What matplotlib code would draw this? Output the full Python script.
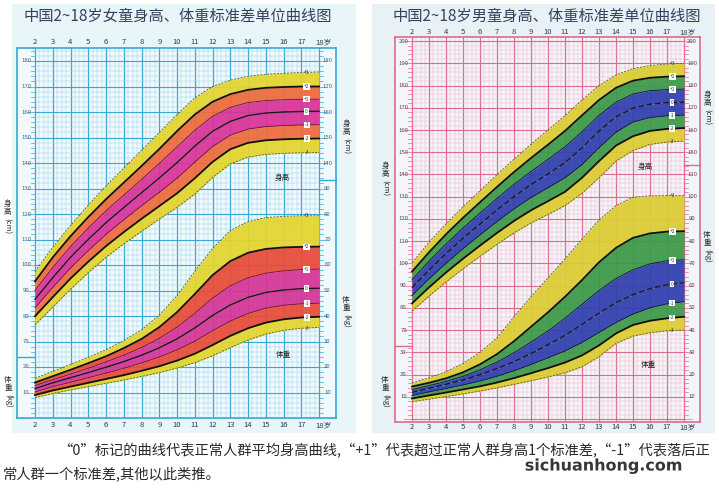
import matplotlib
matplotlib.use("Agg")
import matplotlib.pyplot as plt
import matplotlib.patheffects as pe
from matplotlib.patches import Rectangle
import numpy as np

plt.rcParams['font.family'] = ['Noto Sans CJK SC', 'DejaVu Sans']

W, H = 719, 493

# ---- data ----
AGES = list(range(2, 19))
SD_LABELS = ['+3', '+2', '+1', '0', '-1', '-2', '-3']

# girls height, cm
G_H_P3 = [97.5, 107.0, 115.5, 123.5, 131.0, 138.0, 145.0, 152.0, 159.0, 165.5, 170.0, 172.5, 174.0, 174.8, 175.2, 175.5, 175.7]
G_H_P2 = [93.6, 103.0, 111.3, 118.8, 125.8, 132.3, 138.8, 145.5, 152.5, 159.0, 164.0, 167.0, 168.7, 169.5, 169.8, 170.0, 170.0]
G_H_P1 = [90.0, 99.0, 107.2, 114.5, 121.2, 127.4, 133.5, 139.8, 146.3, 152.8, 158.3, 161.8, 163.7, 164.5, 164.8, 165.0, 165.0]
G_H_0 = [86.5, 95.0, 103.0, 110.0, 116.6, 122.5, 128.3, 134.1, 140.1, 146.6, 152.4, 156.3, 158.6, 159.6, 160.0, 160.2, 160.3]
G_H_M1 = [83.2, 91.2, 98.8, 105.6, 112.0, 117.7, 123.2, 128.5, 134.0, 140.3, 146.4, 150.9, 153.3, 154.3, 154.7, 154.9, 155.0]
G_H_M2 = [79.9, 87.4, 94.7, 101.3, 107.4, 112.9, 118.1, 123.1, 128.1, 134.0, 140.4, 145.4, 147.9, 148.9, 149.3, 149.5, 149.6]
G_H_M3 = [76.5, 83.5, 90.5, 97.0, 103.0, 108.3, 113.2, 118.0, 122.6, 127.8, 134.3, 139.7, 142.3, 143.4, 143.8, 144.0, 144.1]

# girls weight, kg
G_W_P3 = [15.5, 18.3, 21.0, 23.8, 26.8, 30.4, 34.6, 40.3, 48.0, 57.5, 66.5, 73.5, 77.0, 78.6, 79.1, 79.3, 79.3]
G_W_P2 = [13.9, 16.4, 18.9, 21.5, 24.2, 27.4, 31.0, 35.6, 41.5, 48.6, 56.0, 61.5, 64.8, 66.3, 66.9, 67.1, 67.2]
G_W_P1 = [12.7, 15.0, 17.2, 19.5, 22.0, 24.6, 27.6, 31.2, 35.6, 41.0, 47.0, 51.8, 55.0, 56.8, 57.7, 58.2, 58.4]
G_W_0 = [11.5, 13.8, 15.8, 17.8, 19.9, 22.1, 24.6, 27.5, 31.0, 35.3, 40.2, 44.3, 47.3, 49.2, 50.2, 50.7, 50.9]
G_W_M1 = [10.2, 12.3, 14.0, 15.8, 17.6, 19.5, 21.6, 23.9, 26.7, 30.1, 34.2, 38.0, 41.0, 43.1, 44.2, 44.8, 45.0]
G_W_M2 = [9.0, 10.8, 12.3, 13.8, 15.3, 16.8, 18.5, 20.3, 22.5, 25.2, 28.6, 32.2, 35.2, 37.4, 38.7, 39.4, 39.7]
G_W_M3 = [8.0, 9.6, 11.0, 12.3, 13.6, 14.9, 16.3, 17.8, 19.6, 21.7, 24.4, 27.6, 30.6, 32.9, 34.4, 35.2, 35.5]

# boys height, cm
B_H_P3 = [100.3, 109.5, 117.8, 125.5, 132.7, 139.9, 146.9, 153.6, 160.0, 166.5, 173.5, 180.0, 184.8, 187.6, 189.0, 189.7, 190.0]
B_H_P2 = [96.3, 105.0, 113.1, 120.5, 127.5, 134.4, 141.1, 147.4, 153.4, 159.6, 166.6, 173.5, 179.0, 182.2, 183.5, 184.0, 184.2]
B_H_P1 = [92.6, 101.0, 108.7, 115.9, 122.6, 129.2, 135.5, 141.3, 146.8, 152.4, 159.2, 166.6, 172.5, 176.2, 177.7, 178.2, 178.4]
B_H_0 = [89.0, 97.0, 104.3, 111.3, 117.7, 124.0, 130.0, 135.4, 140.2, 145.3, 151.9, 159.5, 165.9, 169.8, 171.6, 172.3, 172.5]
B_H_M1 = [85.5, 93.0, 100.0, 106.6, 112.8, 118.8, 124.5, 129.6, 134.0, 138.5, 144.4, 152.0, 159.0, 163.6, 165.6, 166.4, 166.7]
B_H_M2 = [82.0, 89.2, 95.9, 102.1, 108.0, 113.7, 119.1, 123.9, 128.0, 132.2, 138.5, 146.0, 153.0, 157.2, 159.6, 160.5, 160.9]
B_H_M3 = [78.5, 85.3, 91.6, 97.6, 103.2, 108.6, 113.7, 118.2, 122.0, 126.0, 131.5, 138.5, 146.0, 150.8, 153.5, 154.6, 155.0]

# boys weight, kg
B_W_P3 = [16.3, 18.5, 21.3, 25.0, 30.0, 36.5, 46.0, 55.0, 63.5, 72.0, 81.0, 89.5, 96.0, 99.8, 100.4, 100.5, 100.5]
B_W_P2 = [14.6, 16.3, 18.3, 21.0, 24.6, 29.2, 35.0, 41.5, 48.0, 55.0, 62.5, 70.5, 77.0, 81.5, 83.5, 84.3, 84.5]
B_W_P1 = [13.2, 15.0, 16.9, 19.2, 22.1, 25.6, 29.8, 34.6, 39.6, 45.3, 51.6, 57.8, 63.2, 67.1, 69.8, 71.2, 71.6]
B_W_0 = [12.0, 13.8, 15.6, 17.5, 19.9, 22.7, 25.8, 29.4, 33.4, 37.6, 42.5, 47.6, 52.3, 55.9, 58.6, 60.4, 61.3]
B_W_M1 = [10.6, 12.2, 13.7, 15.3, 17.1, 19.2, 21.7, 24.5, 27.5, 30.6, 34.4, 38.9, 43.4, 47.2, 50.0, 51.8, 52.8]
B_W_M2 = [9.2, 10.6, 11.9, 13.3, 14.7, 16.4, 18.4, 20.6, 22.9, 25.4, 28.6, 33.1, 38.5, 42.3, 44.2, 45.3, 46.0]
B_W_M3 = [7.8, 8.9, 10.1, 11.3, 12.6, 14.0, 15.6, 17.2, 18.9, 20.8, 23.5, 28.0, 34.0, 37.3, 38.8, 39.7, 40.0]

TITLE_GIRL = '中国2~18岁女童身高、体重标准差单位曲线图'
TITLE_BOY = '中国2~18岁男童身高、体重标准差单位曲线图'
CAPTION_1 = '“0”标记的曲线代表正常人群平均身高曲线,“+1”代表超过正常人群身高1个标准差,“-1”代表落后正'
CAPTION_2 = '常人群一个标准差,其他以此类推。'


def fx(x):
    return x / W


def fy(y):
    return 1 - y / H


def ftext(x, y, s, **kw):
    return fig.text(fx(x), fy(y), s, **kw)


def make_axes(left, right, top, bottom, x2, px_year, y0, px_unit):
    ax = fig.add_axes([fx(left), fy(bottom), (right - left) / W, (bottom - top) / H])
    ax.set_zorder(2)
    ax.set_xlim(2 - (x2 - left) / px_year, 2 + (right - x2) / px_year)
    ax.set_ylim((y0 - bottom) / px_unit, (y0 - top) / px_unit)
    ax.set_xticks([])
    ax.set_yticks([])
    return ax


def draw_grid(ax, major, minor, face):
    ax.set_facecolor(face)
    y_lo, y_hi = ax.get_ylim()
    for a in np.arange(2, 18.01, 0.25):
        is_major = abs(a - round(a)) < 1e-6
        ax.plot([a, a], [y_lo, y_hi], color=major if is_major else minor,
                lw=0.9 if is_major else 0.35, zorder=1)
    for v in np.arange(0, y_hi, 2):
        is_major = v % 10 == 0
        ax.plot([2, 18], [v, v], color=major if is_major else minor,
                lw=0.8 if is_major else 0.35, zorder=1)
        tl = 0.45 if is_major else 0.25
        ax.plot([2 - tl, 2], [v, v], color=major, lw=0.5, zorder=1)
        ax.plot([18, 18 + tl], [v, v], color=major, lw=0.5, zorder=1)
    for s in ax.spines.values():
        s.set_color(major)
        s.set_linewidth(1.2)


def draw_bands(ax, curves, shift, yellow, mid, inner, line_inner, median_dash):
    c = [np.array(v) - shift for v in curves]
    cols = [yellow, mid, inner, inner, mid, yellow]
    for k in range(6):
        ax.fill_between(AGES, c[k], c[k + 1], color=cols[k], lw=0, alpha=0.93, zorder=2)
    for k in (0, 6):
        ax.plot(AGES, c[k], color='#55601e', lw=0.6, ls=(0, (2.5, 1.5)), zorder=3)
    for k in (1, 5):
        ax.plot(AGES, c[k], color='#111111', lw=1.3, zorder=3)
    for k in (2, 4):
        ax.plot(AGES, c[k], color=line_inner, lw=0.7, zorder=3)
    ax.plot(AGES, c[3], color='#1a1a1a', lw=1.0,
            ls=(0, (4, 2)) if median_dash else '-', zorder=3)
    # sd markers near the right end
    for k, lab in enumerate(SD_LABELS):
        yv = np.interp(17.3, AGES, c[k])
        if k in (0, 6):
            ax.text(17.3, yv, lab, fontsize=3.5, color='#333333', ha='center', va='center', zorder=4)
        else:
            ax.text(17.3, yv, lab, fontsize=3.5, color='#333333', ha='center', va='center', zorder=4,
                    bbox=dict(boxstyle='square,pad=0.15', fc='white', ec='none'))


def strip_labels(ax, side, values, shift, color):
    x_lo, x_hi = ax.get_xlim()
    xs = (x_lo + 2) / 2 if side == 'left' else (18 + x_hi) / 2
    for v in values:
        ax.text(xs, v - shift, str(v), fontsize=4.3, color=color, ha='center', va='center', zorder=4)


def strip_split(ax, side, yv, color):
    x_lo, x_hi = ax.get_xlim()
    xs = [x_lo, 2] if side == 'left' else [18, x_hi]
    ax.plot(xs, [yv, yv], color=color, lw=1.0, zorder=4, clip_on=False)


fig = plt.figure(figsize=(W / 100, H / 100), dpi=100)
fig.patch.set_facecolor('white')

for x0, x1, col in [(12, 356, '#e8f5f9'), (372, 715, '#e7f1f6')]:
    fig.patches.append(Rectangle((fx(x0), fy(433)), (x1 - x0) / W, (433 - 4) / H,
                                 transform=fig.transFigure, fc=col, ec='none', zorder=-5))

# ---- girls ----
axg = make_axes(17, 336, 48, 418, 35, 17.75, 418, 2.55)
draw_grid(axg, '#35a9d4', '#94d2e9', '#f1f9fc')
draw_bands(axg, [G_H_P3, G_H_P2, G_H_P1, G_H_0, G_H_M1, G_H_M2, G_H_M3], 40,
           '#e4d52e', '#ee6b3b', '#db3399', '#7a1a3c', False)
draw_bands(axg, [G_W_P3, G_W_P2, G_W_P1, G_W_0, G_W_M1, G_W_M2, G_W_M3], 0,
           '#e4d52e', '#e94b38', '#d53596', '#7a1a3c', False)
lab_g = '#3a6a8a'
strip_labels(axg, 'left', list(range(70, 190, 10)), 40, lab_g)
strip_labels(axg, 'left', [10, 20], 0, lab_g)
strip_labels(axg, 'right', [140, 150, 160, 170, 180], 40, lab_g)
strip_labels(axg, 'right', list(range(10, 100, 10)), 0, lab_g)
strip_split(axg, 'left', 24, '#35a9d4')
strip_split(axg, 'right', 93.3, '#35a9d4')

# ---- boys ----
axb = make_axes(395, 700, 37, 422, 412, 17.0, 419, 2.223)
draw_grid(axb, '#de6b8c', '#f0b3c6', '#f3f5fa')
draw_bands(axb, [B_H_P3, B_H_P2, B_H_P1, B_H_0, B_H_M1, B_H_M2, B_H_M3], 30,
           '#dccd33', '#3b9a48', '#2f3fae', '#14213f', True)
draw_bands(axb, [B_W_P3, B_W_P2, B_W_P1, B_W_0, B_W_M1, B_W_M2, B_W_M3], 0,
           '#dccd33', '#3b9a48', '#2f3fae', '#14213f', True)
lab_b = '#5a4a55'
strip_labels(axb, 'left', list(range(70, 210, 10)), 30, lab_b)
strip_labels(axb, 'left', [10, 20, 30], 0, lab_b)
strip_labels(axb, 'right', [150, 160, 170, 180, 190, 200], 30, lab_b)
strip_labels(axb, 'right', list(range(10, 120, 10)), 0, lab_b)
strip_split(axb, 'left', 32.8, '#de6b8c')
strip_split(axb, 'right', 114.3, '#de6b8c')

# ---- titles and age labels ----
ftext(178, 16, TITLE_GIRL, fontsize=11, color='#34425e', ha='center', va='center')
ftext(547, 16, TITLE_BOY, fontsize=11, color='#34425e', ha='center', va='center')

for age in AGES:
    lab = '18岁' if age == 18 else str(age)
    dx = 4 if age == 18 else 0
    ftext(35 + (age - 2) * 17.75 + dx, 42, lab, fontsize=5.5, color='#2b3b55', ha='center', va='center')
    ftext(35 + (age - 2) * 17.75 + dx, 425, lab, fontsize=5.5, color='#2b3b55', ha='center', va='center')
    ftext(412 + (age - 2) * 17.0 + dx, 32, lab, fontsize=5.5, color='#2b3b55', ha='center', va='center')
    ftext(412 + (age - 2) * 17.0 + dx, 427, lab, fontsize=5.5, color='#2b3b55', ha='center', va='center')


# ---- axis names ----
def vlabel(x, y, name):
    ftext(x, y, name[0] + '\n' + name[1], fontsize=5.5, color='#2a2a2a', ha='center', va='bottom',
          linespacing=1.0)
    ftext(x, y + 2, name[2:], fontsize=5.5, color='#2a2a2a', ha='center', va='top', rotation=-90)


vlabel(7, 216, '身高(cm)')
vlabel(8, 392, '体重(kg)')
vlabel(346, 136, '身高(cm)')
vlabel(346, 312, '体重(kg)')
vlabel(385, 178, '身高(cm)')
vlabel(385, 392, '体重(kg)')
vlabel(707, 107, '身高(cm)')
vlabel(707, 247, '体重(kg)')

ftext(282, 178, '身高', fontsize=5.5, color='#222222', ha='center', va='center')
ftext(283, 355, '体重', fontsize=5.5, color='#222222', ha='center', va='center')
ftext(645, 167, '身高', fontsize=5.5, color='#222222', ha='center', va='center')
ftext(648, 365, '体重', fontsize=5.5, color='#222222', ha='center', va='center')

# ---- caption ----
ftext(58, 451, CAPTION_1, fontsize=10.3, color='#2a2a2a', ha='left', va='center')
ftext(3, 474, CAPTION_2, fontsize=10.3, color='#2a2a2a', ha='left', va='center')
ftext(604, 466, 'sichuanhong.com', fontsize=11.5, fontweight='bold', color='#3a3434',
      ha='center', va='center', family='DejaVu Sans',
      path_effects=[pe.withStroke(linewidth=2.2, foreground='white')])

fig.savefig('out.png', dpi=100)
